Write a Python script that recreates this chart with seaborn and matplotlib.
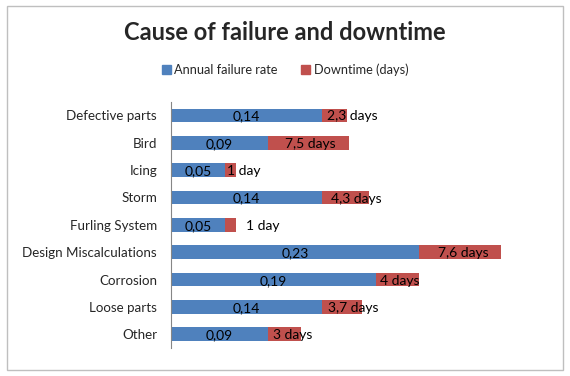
import matplotlib
matplotlib.use("Agg")
import matplotlib.pyplot as plt
from matplotlib.patches import Patch, Rectangle
import pandas as pd
import seaborn as sns

# data
causes = ["Defective parts", "Bird", "Icing", "Storm", "Furling System",
          "Design Miscalculations", "Corrosion", "Loose parts", "Other"]
failure_rate = [0.14, 0.09, 0.05, 0.14, 0.05, 0.23, 0.19, 0.14, 0.09]
downtime_days = [2.3, 7.5, 1, 4.3, 1, 7.6, 4, 3.7, 3]
downtime_text = ["2,3 days", "7,5 days", "1 day", "4,3 days", "1 day",
                 "7,6 days", "4 days", "3,7 days", "3 days"]

# downtime is drawn on the same axis, 1 day = 0.01
df = pd.DataFrame({"cause": causes, "rate": failure_rate, "days": downtime_days})
df["total"] = df["rate"] + df["days"] / 100

# where the downtime labels start, pixels after the red segment start
label_nudge_px = [5, 17, 2, 9, 21, 19, 4, 6, 5]

blue = "#4F81BD"
red = "#C0504D"

sns.set_style("white")
plt.rcParams["font.family"] = ["Lato", "DejaVu Sans"]

fig = plt.figure(figsize=(5.7, 3.76), dpi=100)
ax = fig.add_axes([0.30, 0.0745, 0.663, 0.655])

sns.barplot(data=df, x="total", y="cause", color=red, saturation=1,
            width=0.5, orient="h", linewidth=0, ax=ax)
sns.barplot(data=df, x="rate", y="cause", color=blue, saturation=1,
            width=0.5, orient="h", linewidth=0, ax=ax)

ax.set_xlim(0, 0.35)
ax.set_ylim(8.5, -0.5)
px = 0.35 / (0.663 * 570)  # data units per pixel

for i, row in df.iterrows():
    ax.text(row["rate"] / 2, i + 0.04, f"{row['rate']:.2f}".replace(".", ","),
            ha="center", va="center", fontsize=10, color="black")
    ax.text(row["rate"] + label_nudge_px[i] * px, i + 0.04, downtime_text[i],
            ha="left", va="center", fontsize=10, color="black")

ax.set_xlabel("")
ax.set_ylabel("")
ax.set_xticks([])
ax.tick_params(axis="y", length=0, labelsize=9.6, pad=10)
for s in ["top", "right", "bottom"]:
    ax.spines[s].set_visible(False)
ax.spines["left"].set_color("#868686")
ax.spines["left"].set_linewidth(0.8)

fig.text(0.5, 0.913, "Cause of failure and downtime", ha="center", va="center",
         fontsize=17, fontweight="bold")

handles = [Patch(color=blue, label="Annual failure rate"),
           Patch(color=red, label="Downtime (days)")]
fig.legend(handles=handles, loc="center", bbox_to_anchor=(0.5, 0.814), ncol=2,
           frameon=False, fontsize=9.2, handlelength=0.7, handleheight=0.7,
           handletextpad=0.3, columnspacing=1.8)

fig.patches.append(Rectangle((7 / 570, 6 / 376), 556 / 570, 364 / 376,
                             transform=fig.transFigure, fill=False,
                             edgecolor="#BFBFBF", linewidth=1))

fig.savefig("out.png", dpi=100)
